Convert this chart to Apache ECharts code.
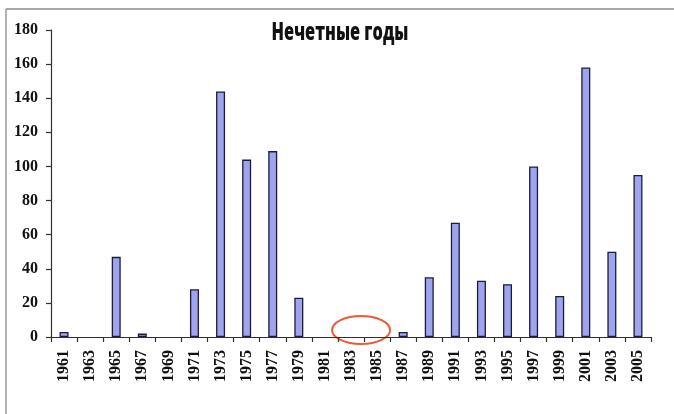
<!DOCTYPE html>
<html>
<head>
<meta charset="utf-8">
<script src="https://cdn.jsdelivr.net/npm/echarts@6/dist/echarts.min.js"></script>
<style>html,body{margin:0;padding:0;background:#fff;}#c{width:674px;height:414px;}</style>
</head>
<body>
<div id="c"></div>
<script>
var titleText = 'Нечетные годы';
var years = ['1961','1963','1965','1967','1969','1971','1973','1975','1977','1979','1981','1983','1985','1987','1989','1991','1993','1995','1997','1999','2001','2003','2005'];
var values = [3,0,47,2,0,28,144,104,109,23,0,0,0,3,35,67,33,31,100,24,158,50,95];
var yTicks = [0,20,40,60,80,100,120,140,160,180];

var chart = echarts.init(document.getElementById('c'), null, {renderer:'canvas'});
var axisColor = '#2b3528';
var barData = values.map(function(v){
  return v === 0 ? {value:v,itemStyle:{borderWidth:0}} : v;
});
var frame = [
  {type:'line',shape:{x1:6,y1:9,x2:674,y2:9},style:{stroke:'#8a8a8a',lineWidth:1.5}},
  {type:'line',shape:{x1:6,y1:9,x2:6,y2:414},style:{stroke:'#9a9a9a',lineWidth:1.5}},
  {type:'text',x:340,y:33,scaleX:0.68,style:{text:titleText,fontFamily:'Open Sans',fontWeight:800,fontSize:24,fill:'#111',align:'center',verticalAlign:'middle'}}
];
chart.setOption({
  animation:false,
  backgroundColor:'#ffffff',
  grid:{left:51,right:23,top:30,bottom:77},
  xAxis:{type:'category',data:years,boundaryGap:true,
    axisLine:{lineStyle:{color:axisColor,width:1.2}},
    axisTick:{show:true,alignWithLabel:false,length:5,lineStyle:{color:axisColor,width:1.2}},
    axisLabel:{rotate:90,interval:0,margin:13,fontFamily:'Liberation Serif',fontWeight:'bold',fontSize:16,color:'#111'}},
  yAxis:{type:'value',min:yTicks[0],max:yTicks[yTicks.length-1],interval:20,
    axisLine:{show:true,lineStyle:{color:axisColor,width:1.2}},
    axisTick:{show:true,length:5,lineStyle:{color:axisColor,width:1.2}},
    splitLine:{show:false},
    axisLabel:{margin:13,fontFamily:'Liberation Serif',fontWeight:'bold',fontSize:16,color:'#111'}},
  series:[{type:'bar',data:barData,barWidth:9,
    itemStyle:{color:'#9ea5ee',borderColor:'#1c1c3a',borderWidth:1.3}}],
  graphic:frame
});
var p1 = chart.convertToPixel({xAxisIndex:0,yAxisIndex:0},['1983',0]);
var p2 = chart.convertToPixel({xAxisIndex:0,yAxisIndex:0},['1985',0]);
chart.setOption({graphic:frame.concat([
  {type:'ellipse',shape:{cx:(p1[0]+p2[0])/2-3,cy:p1[1]-7,rx:29,ry:14},style:{fill:null,stroke:'#ee5a35',lineWidth:2}}
])});
</script>
</body>
</html>
